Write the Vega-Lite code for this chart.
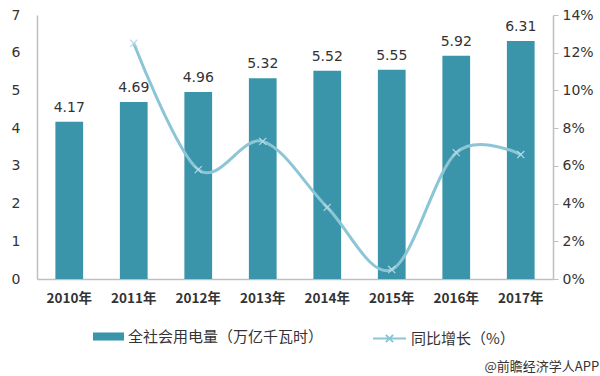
{
  "$schema": "https://vega.github.io/schema/vega-lite/v6.json",
  "width": 516,
  "height": 264,
  "autosize": {"type": "none"},
  "padding": {"left": 37, "top": 15, "right": 47, "bottom": 97},
  "background": "white",
  "config": {
    "view": {"stroke": null},
    "font": "Noto Sans CJK SC",
    "axis": {"domainColor": "#bfbfbf", "grid": false, "labelColor": "#333333", "labelFont": "DejaVu Sans", "titleFontSize": 0, "labelOverlap": false}
  },
  "title": {
    "text": "@前瞻经济学人APP",
    "orient": "bottom",
    "anchor": "end",
    "fontSize": 13,
    "fontWeight": "normal",
    "color": "#333333",
    "font": "Noto Sans CJK SC",
    "dx": 6,
    "offset": 14
  },
  "data": {
    "values": [
      {"year": "2010年", "power": 4.17, "growth": null},
      {"year": "2011年", "power": 4.69, "growth": 0.125},
      {"year": "2012年", "power": 4.96, "growth": 0.058},
      {"year": "2013年", "power": 5.32, "growth": 0.073},
      {"year": "2014年", "power": 5.52, "growth": 0.038},
      {"year": "2015年", "power": 5.55, "growth": 0.005},
      {"year": "2016年", "power": 5.92, "growth": 0.067},
      {"year": "2017年", "power": 6.31, "growth": 0.066}
    ]
  },
  "encoding": {
    "x": {
      "field": "year",
      "type": "ordinal",
      "title": null,
      "scale": {"paddingInner": 0.57, "paddingOuter": 0.285},
      "axis": {"labelAngle": 0, "ticks": false, "labelFontSize": 13.5, "labelFontWeight": "bold", "labelFont": "Noto Sans CJK SC", "labelPadding": 12, "domainWidth": 1.5}
    }
  },
  "layer": [
    {
      "encoding": {
        "y": {
          "field": "power",
          "type": "quantitative",
          "title": null,
          "scale": {"domain": [0, 7]},
          "axis": {"orient": "left", "ticks": false, "values": [0,1,2,3,4,5,6,7], "labelFontSize": 14, "labelPadding": 17, "domainWidth": 1.5}
        }
      },
      "layer": [
        {
          "mark": {"type": "bar"},
          "encoding": {
            "fill": {
              "datum": "全社会用电量（万亿千瓦时）",
              "scale": {"range": ["#3a95ab"]},
              "legend": {
                "title": null,
                "orient": "none",
                "legendX": 56,
                "legendY": 306,
                "symbolType": "M-1,-0.26H1V0.26H-1Z",
                "symbolSize": 961,
                "symbolStrokeWidth": 0,
                "labelFontSize": 15,
                "labelLimit": 400,
                "labelColor": "#333333",
                "labelFont": "Noto Sans CJK SC",
                "labelOffset": 4
              }
            }
          }
        },
        {
          "mark": {"type": "text", "dy": -14, "fontSize": 14, "color": "#333333", "font": "DejaVu Sans"},
          "encoding": {
            "text": {"field": "power", "type": "quantitative", "format": ".2f"}
          }
        }
      ]
    },
    {
      "encoding": {
        "y": {
          "field": "growth",
          "type": "quantitative",
          "title": null,
          "scale": {"domain": [0, 0.14]},
          "axis": {"orient": "right", "format": ".0%", "values": [0,0.02,0.04,0.06,0.08,0.1,0.12,0.14], "tickColor": "#bfbfbf", "tickSize": 5, "labelFontSize": 14, "labelPadding": 4, "domainWidth": 1.5}
        }
      },
      "layer": [
        {
          "mark": {"type": "line", "interpolate": "cardinal", "strokeWidth": 3},
          "encoding": {
            "stroke": {
              "datum": "同比增长（%）",
              "scale": {"range": ["#8cc5d6"]},
              "legend": {
                "title": null,
                "orient": "none",
                "legendX": 335,
                "legendY": 306,
                "symbolType": "M-1,0H1M-0.22,-0.22L0.22,0.22M-0.22,0.22L0.22,-0.22",
                "symbolSize": 1089,
                "symbolStrokeWidth": 2,
                "labelFontSize": 15,
                "labelLimit": 300,
                "labelColor": "#333333",
                "labelFont": "Noto Sans CJK SC",
                "labelOffset": 4
              }
            }
          }
        },
        {
          "mark": {"type": "point", "shape": "M-1,-1L1,1M-1,1L1,-1", "filled": false, "size": 50, "strokeWidth": 1.2, "color": "#b5dbe6", "opacity": 1}
        }
      ]
    }
  ],
  "resolve": {"scale": {"y": "independent"}}
}
